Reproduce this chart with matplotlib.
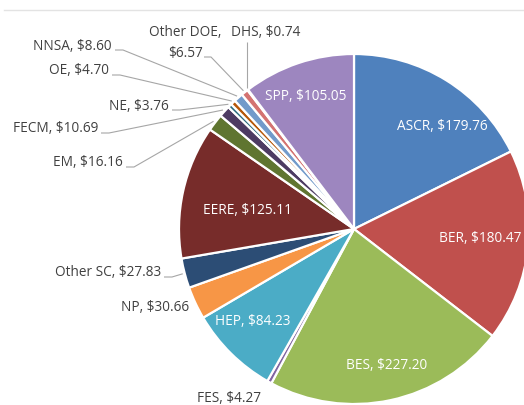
import numpy as np
import matplotlib
matplotlib.use("Agg")
import matplotlib.pyplot as plt
from matplotlib import font_manager

# FY budget by program, $M (clockwise from 12 o'clock)
programs = ["ASCR", "BER", "BES", "FES", "HEP", "NP", "Other SC", "EERE",
            "EM", "FECM", "NE", "OE", "NNSA", "Other DOE", "DHS", "SPP"]
amounts = [179.76, 180.47, 227.20, 4.27, 84.23, 30.66, 27.83, 125.11,
           16.16, 10.69, 3.76, 4.70, 8.60, 6.57, 0.74, 105.05]
colors = ["#4F81BD", "#C0504D", "#9BBB59", "#8064A2", "#4BACC6", "#F79646",
          "#2C4D75", "#772C2A", "#5F7530", "#4D3B62", "#276A7C", "#B65708",
          "#729ACA", "#D47371", "#A9C47F", "#9D86BF"]

W, H = 524, 406
CX, CY, R = 354, 230, 175  # pie centre / radius in picture pixels (y down)

# label placement in picture pixels: (x, y, ha, inside, leader)
layout = {
    "ASCR": (442, 127, "center", True, False),
    "BER": (480, 239, "center", True, False),
    "BES": (387, 366, "center", True, False),
    "FES": (229, 399, "center", False, False),
    "HEP": (253, 322, "center", True, False),
    "NP": (189, 308, "right", False, False),
    "Other SC": (161, 273, "right", False, True),
    "EERE": (247, 211, "center", True, False),
    "EM": (123, 163, "right", False, True),
    "FECM": (98, 129, "right", False, True),
    "NE": (169, 106, "right", False, True),
    "OE": (109, 71, "right", False, True),
    "NNSA": (112, 46, "right", False, True),
    "Other DOE": (185, 43, "center", False, True),
    "DHS": (266, 32, "center", False, True),
    "SPP": (306, 97, "center", True, False),
}

avail = {f.name for f in font_manager.fontManager.ttflist}
fam = [f for f in ["Liberation Sans Narrow", "Open Sans", "DejaVu Sans"] if f in avail]
plt.rcParams["font.family"] = fam


def px(x, y):
    return x, H - y


fig = plt.figure(figsize=(W / 100, H / 100), dpi=100)
ax = fig.add_axes([0, 0, 1, 1])
ax.pie(amounts, colors=colors, startangle=90, counterclock=False,
       center=px(CX, CY), radius=R,
       wedgeprops=dict(edgecolor="white", linewidth=1.6))
ax.set_xlim(0, W)
ax.set_ylim(0, H)
ax.set_aspect("equal")
ax.axis("off")

# thin rule along the top
ax.plot([4, W], [H - 11, H - 11], color="#E3E3E3", lw=1)

total = sum(amounts)
cum = np.cumsum([0] + amounts)
fs = 9.8
for i, (name, val) in enumerate(zip(programs, amounts)):
    x, y, ha, inside, leader = layout[name]
    text = f"{name}, ${val:.2f}"
    if name == "Other DOE":
        text = f"{name},\n${val:.2f}"
    ax.text(*px(x, y), text, ha=ha, va="center", fontsize=fs,
            color="white" if inside else "#404040", fontweight="medium",
            linespacing=1.5, multialignment="center")
    if not leader:
        continue
    mid = (cum[i] + val / 2) / total * 360
    ang = np.deg2rad(90 - mid)
    ex, ey = CX + (R + 2) * np.cos(ang), CY - (R + 2) * np.sin(ang)
    if name == "DHS":
        pts = [(ex, 43), (ex, ey)]
    elif name == "Other DOE":
        pts = [(204, 58), (211, 58), (ex, ey)]
    else:
        sx = x + 3
        pts = [(sx, y + 5), (sx + 8, y + 5), (ex, ey)]
    xs = [p[0] for p in pts]
    ys = [H - p[1] for p in pts]
    ax.plot(xs, ys, color="#A6A6A6", lw=0.8, solid_capstyle="butt")

fig.savefig("out.png", dpi=100)
